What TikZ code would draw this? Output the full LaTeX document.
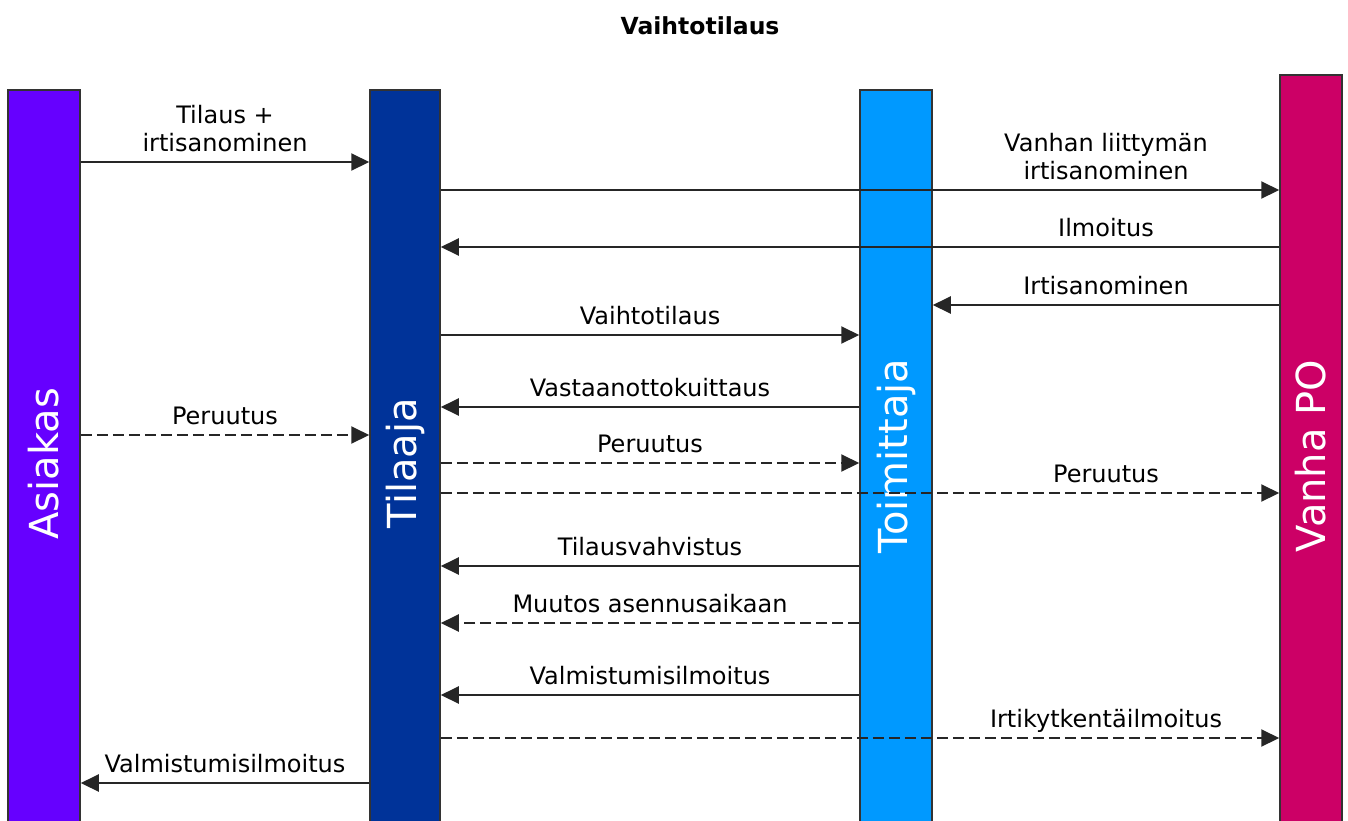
\documentclass[tikz,border=0pt]{standalone}
\usepackage{fontspec}
\setmainfont{DejaVu Sans}
\usepackage[dvipsnames]{xcolor}
\usetikzlibrary{shapes,arrows.meta}
\tikzstyle{every picture}+=[font=\fontsize{24}{28.5}\selectfont]
\tikzstyle{palkki}=[draw=black!80, line width=1.5pt, minimum height=780pt, anchor=north, inner sep=0pt]
\tikzstyle{nimi}=[white, font=\fontsize{40}{48}\selectfont, rotate=90]
\tikzstyle{viesti}=[line width=2pt, black!85, -{Triangle[length=18pt,width=17pt]}]
\tikzstyle{katko}=[viesti, dash pattern=on 11pt off 5pt]
\tikzstyle{teksti}=[black, above=7pt, inner sep=0pt, text depth=0.25em, align=center]

\begin{document}
\begin{tikzpicture}[x=1pt, y=-1pt]

\definecolor{asiakasvari}{HTML}{6600FF}
\definecolor{tilaajavari}{HTML}{003399}
\definecolor{toimittajavari}{HTML}{0099FF}
\definecolor{vanhavari}{HTML}{CC0066}
%%
\useasboundingbox (0,0) rectangle (1348,820);

\node[font=\fontsize{23.5}{28}\selectfont\bfseries] (otsikko) at (700,26) {Vaihtotilaus};

%% palkit
\node[palkki, fill=asiakasvari, minimum width=72pt] (asiakas) at (44,89) {};
\node[palkki, fill=tilaajavari, minimum width=70pt] (tilaaja) at (405,89) {};
\node[palkki, fill=toimittajavari, minimum width=72pt] (toimittaja) at (896,89) {};
\node[palkki, fill=vanhavari, minimum width=62pt] (vanha) at (1311,74) {};

\node[nimi] (asiakasnimi) at (44,464) {Asiakas};
\node[nimi] (tilaajanimi) at (405,463) {Tilaaja};
\node[nimi] (toimittajanimi) at (896,456) {Toimittaja};
\node[nimi] (vanhanimi) at (1311,456) {Vanha PO};

%% viestit
\draw[viesti] (asiakas.east |- 0,162) -- (tilaaja.west |- 0,162)
  node[teksti, midway] {Tilaus +\\irtisanominen};
\draw[viesti] (tilaaja.east |- 0,190) -- (toimittaja.east |- 0,190) -- (vanha.west |- 0,190)
  node[teksti, midway] {Vanhan liittymän\\irtisanominen};
\draw[viesti] (vanha.west |- 0,247) -- (toimittaja.east |- 0,247)
  node[teksti, midway] {Ilmoitus} -- (tilaaja.east |- 0,247);
\draw[viesti] (vanha.west |- 0,305) -- (toimittaja.east |- 0,305)
  node[teksti, midway] {Irtisanominen};
\draw[viesti] (tilaaja.east |- 0,335) -- (toimittaja.west |- 0,335)
  node[teksti, midway] {Vaihtotilaus};
\draw[viesti] (toimittaja.west |- 0,407) -- (tilaaja.east |- 0,407)
  node[teksti, midway] {Vastaanottokuittaus};
\draw[katko] (asiakas.east |- 0,435) -- (tilaaja.west |- 0,435)
  node[teksti, midway] {Peruutus};
\draw[katko] (tilaaja.east |- 0,463) -- (toimittaja.west |- 0,463)
  node[teksti, midway] {Peruutus};
\draw[katko] (tilaaja.east |- 0,493) -- (toimittaja.east |- 0,493) -- (vanha.west |- 0,493)
  node[teksti, midway] {Peruutus};
\draw[viesti] (toimittaja.west |- 0,566) -- (tilaaja.east |- 0,566)
  node[teksti, midway] {Tilausvahvistus};
\draw[katko] (toimittaja.west |- 0,623) -- (tilaaja.east |- 0,623)
  node[teksti, midway] {Muutos asennusaikaan};
\draw[viesti] (toimittaja.west |- 0,695) -- (tilaaja.east |- 0,695)
  node[teksti, midway] {Valmistumisilmoitus};
\draw[katko] (tilaaja.east |- 0,738) -- (toimittaja.east |- 0,738) -- (vanha.west |- 0,738)
  node[teksti, midway] {Irtikytkentäilmoitus};
\draw[viesti] (tilaaja.west |- 0,783) -- (asiakas.east |- 0,783)
  node[teksti, midway] {Valmistumisilmoitus};

\end{tikzpicture}
\end{document}
